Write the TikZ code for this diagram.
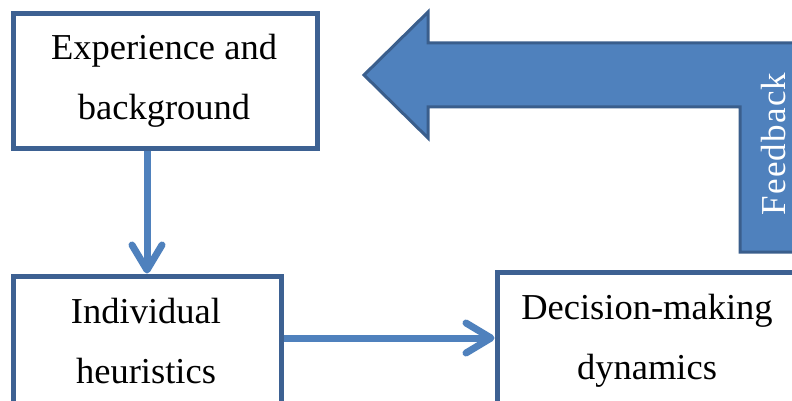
\documentclass[tikz,border=0pt]{standalone}
\usepackage{fontspec}
\setmainfont{Liberation Serif}
\usetikzlibrary{arrows.meta}
\definecolor{boxline}{RGB}{61,97,146}
\definecolor{accent}{RGB}{79,129,189}
\definecolor{accentdark}{RGB}{58,94,140}
\tikzset{
  box/.style={draw=boxline, line width=5pt, fill=white, rectangle, inner sep=0pt},
  label/.style={font=\fontsize{36.5}{60}\selectfont, align=center, text=black, inner sep=0pt},
  conn/.style={draw=accent, line width=7pt, -{Straight Barb[length=25pt, width=30pt, line width=7pt, round]}}
}
\begin{document}
\begin{tikzpicture}[x=1pt,y=-1pt]
\useasboundingbox (0,0) rectangle (792,401);
\clip (0,0) rectangle (792,401);
% boxes
\node[box, minimum width=304pt, minimum height=134pt] (b1) at (165,81) {};
\node[box, minimum width=268pt, minimum height=144pt] (b2) at (147,348) {};
\node[box, minimum width=301pt, minimum height=148pt] (b3) at (647.5,346) {};
% texts
\node[label] (t1) at (164,81) {Experience and\\background};
\node[label] (t2) at (146,341) {Individual\\heuristics};
\node[label] (t3) at (647,341) {Decision-making\\dynamics};
% feedback arrow
\draw[fill=accent, draw=accentdark, line width=3pt, line join=miter]
  (364,75) -- (428,12) -- (428,43) -- (812,43) -- (812,252) -- (740,252)
  -- (740,107) -- (428,107) -- (428,138) -- cycle;
\node[rotate=90, text=white, font=\fontsize{35}{40}\selectfont\addfontfeature{LetterSpace=3.5}, inner sep=0pt] (fb) at (774,144) {Feedback};
% connectors
\coordinate (hy) at (0,338);
\draw[conn] (b2.north |- b1.south) -- (b2.north);
\draw[conn] (b2.east |- hy) -- (b3.west |- hy);
\end{tikzpicture}
\end{document}
